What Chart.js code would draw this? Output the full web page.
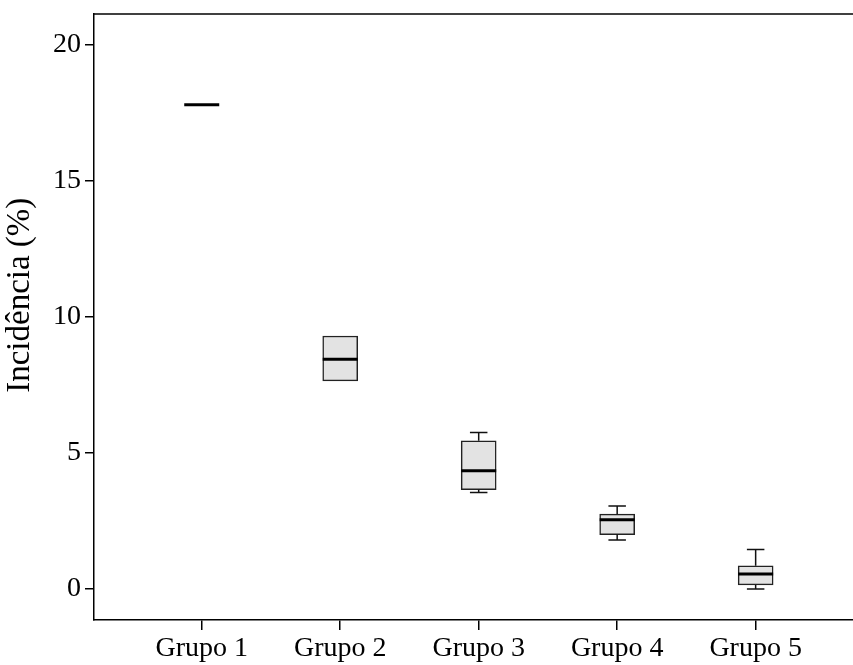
<!DOCTYPE html>
<html>
<head>
<meta charset="utf-8">
<script src="https://cdn.jsdelivr.net/npm/chart.js@4.4.1/dist/chart.umd.min.js"></script>
<style>
  html, body { margin: 0; padding: 0; background: #fff; }
  #wrap { width: 853px; height: 665px; }
</style>
</head>
<body>
<div id="wrap"><canvas id="box"></canvas></div>
<script>
const groups = ["Grupo 1", "Grupo 2", "Grupo 3", "Grupo 4", "Grupo 5"];
const minVals = [17.8, 7.65, 3.55, 1.8, 0];
const q1Vals = [17.8, 7.65, 3.65, 2.0, 0.15];
const medVals = [17.8, 8.45, 4.35, 2.55, 0.55];
const q3Vals = [17.8, 9.3, 5.45, 2.75, 0.85];
const maxVals = [17.8, 9.3, 5.75, 3.05, 1.45];
const yTicks = [0, 5, 10, 15, 20];

const serif = "'Liberation Serif', 'DejaVu Serif', serif";
const BOX_W = 35;

// whiskers, caps, medians and the frame's top line
const boxExtras = {
    id: "boxExtras",
    afterDatasetsDraw(chart) {
        const { ctx, chartArea } = chart;
        const x = chart.scales.x;
        const y = chart.scales.y;
        ctx.save();
        ctx.strokeStyle = "#111";
        groups.forEach((g, i) => {
            const cx = x.getPixelForValue(i);
            ctx.lineWidth = 1.5;
            if (maxVals[i] > q3Vals[i]) {
                ctx.beginPath();
                ctx.moveTo(cx, y.getPixelForValue(q3Vals[i]));
                ctx.lineTo(cx, y.getPixelForValue(maxVals[i]));
                ctx.moveTo(cx - BOX_W / 4, y.getPixelForValue(maxVals[i]));
                ctx.lineTo(cx + BOX_W / 4, y.getPixelForValue(maxVals[i]));
                ctx.stroke();
            }
            if (minVals[i] < q1Vals[i]) {
                ctx.beginPath();
                ctx.moveTo(cx, y.getPixelForValue(q1Vals[i]));
                ctx.lineTo(cx, y.getPixelForValue(minVals[i]));
                ctx.moveTo(cx - BOX_W / 4, y.getPixelForValue(minVals[i]));
                ctx.lineTo(cx + BOX_W / 4, y.getPixelForValue(minVals[i]));
                ctx.stroke();
            }
            ctx.lineWidth = 3;
            ctx.strokeStyle = "#000";
            ctx.beginPath();
            ctx.moveTo(cx - BOX_W / 2, y.getPixelForValue(medVals[i]));
            ctx.lineTo(cx + BOX_W / 2, y.getPixelForValue(medVals[i]));
            ctx.stroke();
            ctx.strokeStyle = "#111";
        });
        ctx.lineWidth = 1.5;
        ctx.strokeStyle = "#000";
        ctx.beginPath();
        ctx.moveTo(chartArea.left, chartArea.top);
        ctx.lineTo(chartArea.right, chartArea.top);
        ctx.stroke();

        // y axis title
        ctx.save();
        ctx.translate(chartArea.left - 74, y.getPixelForValue(10.8));
        ctx.rotate(-Math.PI / 2);
        ctx.fillStyle = "#000";
        ctx.font = "33px " + serif;
        ctx.textAlign = "center";
        ctx.textBaseline = "middle";
        ctx.fillText("Incidência (%)", 0, 0);
        ctx.restore();
        ctx.restore();
    },
};

new Chart(document.getElementById("box").getContext("2d"), {
    type: "bar",
    data: {
        datasets: [
            {
                data: groups.map((g, i) => ({ x: i, y: [q1Vals[i], q3Vals[i]] })),
                backgroundColor: "#e3e3e3",
                borderColor: "#222",
                borderWidth: 1.5,
                borderSkipped: false,
                barThickness: BOX_W,
            },
        ],
    },
    options: {
        responsive: true,
        maintainAspectRatio: false,
        animation: false,
        layout: { padding: { top: 14, left: 0, right: 0, bottom: 0 } },
        scales: {
            x: {
                type: "linear",
                offset: false,
                min: -0.778,
                max: 4.703,
                afterBuildTicks: (s) => {
                    s.ticks = groups.map((g, i) => ({ value: i }));
                },
                afterFit: (s) => {
                    s.height = 45;
                    s.paddingLeft = 0;
                    s.paddingRight = 0;
                },
                grid: {
                    display: true,
                    offset: false,
                    drawOnChartArea: false,
                    drawTicks: true,
                    tickLength: 10,
                    color: "#000",
                    lineWidth: 1.5,
                },
                border: { display: true, color: "#000", width: 1.5 },
                ticks: {
                    color: "#000",
                    padding: 2,
                    maxRotation: 0,
                    font: { family: serif, size: 28 },
                    callback: (v) => groups[v],
                },
            },
            y: {
                type: "linear",
                min: -1.14,
                max: 21.14,
                afterBuildTicks: (s) => {
                    s.ticks = yTicks.map((v) => ({ value: v }));
                },
                afterFit: (s) => {
                    s.width = 94;
                    s.paddingTop = 0;
                    s.paddingBottom = 0;
                },
                grid: {
                    display: true,
                    drawOnChartArea: false,
                    drawTicks: true,
                    tickLength: 9,
                    color: "#000",
                    lineWidth: 1.5,
                },
                border: { display: true, color: "#000", width: 1.5 },
                ticks: {
                    color: "#000",
                    padding: 4,
                    font: { family: serif, size: 28 },
                },
            },
        },
        plugins: {
            legend: { display: false },
            tooltip: { enabled: false },
        },
    },
    plugins: [boxExtras],
});
</script>
</body>
</html>
